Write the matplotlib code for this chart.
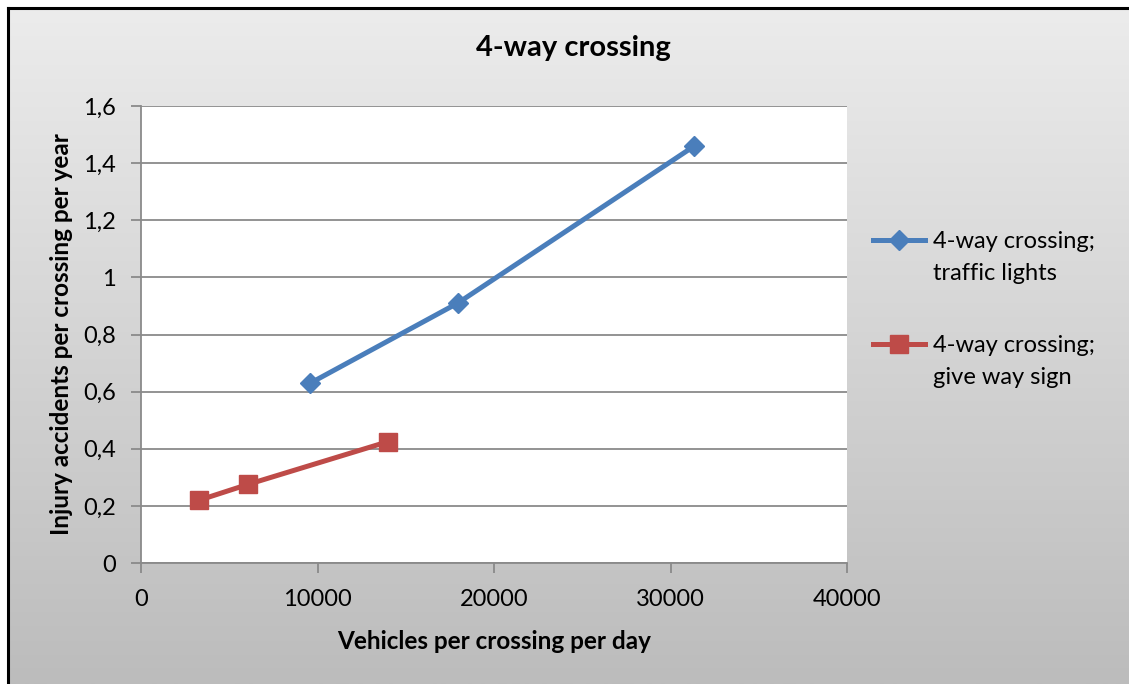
import numpy as np
import matplotlib
matplotlib.use("Agg")
import matplotlib.pyplot as plt
from matplotlib.lines import Line2D

plt.rcParams['font.family'] = ['Lato', 'DejaVu Sans']

# data
lights_x = [9600, 17950, 31350]
lights_y = [0.63, 0.91, 1.46]
sign_x = [3300, 6050, 14000]
sign_y = [0.22, 0.275, 0.425]

series_first = ['4-way crossing;', '4-way crossing;']
series_second = ['traffic lights', 'give way sign']
xticks = [0, 10000, 20000, 30000, 40000]
yticks = [0, 0.2, 0.4, 0.6, 0.8, 1, 1.2, 1.4, 1.6]
ytick_labels = ['0', '0,2', '0,4', '0,6', '0,8', '1', '1,2', '1,4', '1,6']

blue = '#4A7EBB'
red = '#BE4B48'
grid_col = '#8a8a8a'
W, H = 1129, 684

fig = plt.figure(figsize=(W / 100, H / 100), dpi=100)
fig.patch.set_facecolor('white')

# gradient background
bg = fig.add_axes([7.5 / W, 0, 1 - 7.5 / W, 1 - 7.5 / H])
grad = np.linspace(0, 1, 256).reshape(-1, 1)
cm = matplotlib.colors.LinearSegmentedColormap.from_list('g', ['#ececec', '#bcbcbc'])
bg.imshow(grad, aspect='auto', cmap=cm, extent=[0, 1, 0, 1], origin='upper')
bg.set_axis_off()
# black border top and left
fig.add_artist(Line2D([7.5 / W, 7.5 / W], [0, 1 - 7.5 / H], color='black', lw=2.2, transform=fig.transFigure))
fig.add_artist(Line2D([7.5 / W, 1], [1 - 7.5 / H, 1 - 7.5 / H], color='black', lw=2.2, transform=fig.transFigure))

ax = fig.add_axes([141 / W, 1 - 563 / H, 706 / W, 457 / H])
ax.set_facecolor('white')
l1, = ax.plot(lights_x, lights_y, color=blue, lw=3.6, marker='D', markersize=10)
l2, = ax.plot(sign_x, sign_y, color=red, lw=3.6, marker='s', markersize=12.5)

ax.set_xlim(0, 40000)
ax.set_ylim(0, 1.6)
ax.set_xticks(xticks)
ax.set_xticklabels([str(t) for t in xticks])
ax.set_yticks(yticks)
ax.set_yticklabels(ytick_labels)
ax.yaxis.grid(True, color=grid_col, lw=1.3)
ax.set_axisbelow(True)
for s in ['top', 'right']:
    ax.spines[s].set_visible(False)
for s in ['left', 'bottom']:
    ax.spines[s].set_color(grid_col)
    ax.spines[s].set_linewidth(1.3)
ax.tick_params(axis='both', direction='out', length=7, width=1.3, color=grid_col, labelsize=17, labelcolor='black')
ax.tick_params(axis='y', pad=11)
ax.tick_params(axis='x', pad=12)

fig.text(573 / W, 1 - 48 / H, '4-way crossing', fontsize=21, fontweight='bold', ha='center', va='center')
ax.set_xlabel('Vehicles per crossing per day', fontsize=17.5, fontweight='bold', labelpad=14)
ax.set_ylabel('Injury accidents per crossing per year', fontsize=17.5, fontweight='bold', labelpad=7)

# legend: one per series, handle on the first text line
blank = Line2D([], [], linestyle='none')
anchors = [1 - 231 / H, 1 - 335 / H]
legs = []
for handle, t1, t2, yy in zip([l1, l2], series_first, series_second, anchors):
    leg = ax.legend([handle, blank], [t1, t2], loc='upper left', bbox_to_anchor=(873 / W, yy),
                    bbox_transform=fig.transFigure, frameon=False, fontsize=17,
                    handlelength=2.2, handletextpad=0.35, labelspacing=0.45,
                    borderpad=0, borderaxespad=0)
    legs.append(leg)
ax.add_artist(legs[0])

fig.savefig('out.png', dpi=100)
